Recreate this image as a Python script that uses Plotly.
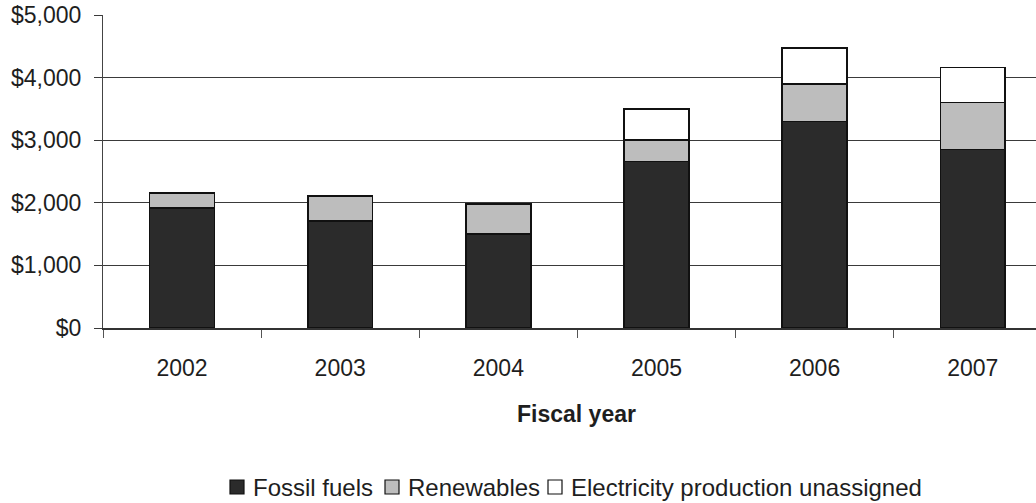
import plotly.graph_objects as go

years = ["2002", "2003", "2004", "2005", "2006", "2007"]
fossil = [1920, 1710, 1500, 2660, 3300, 2850]
renewables = [240, 400, 480, 340, 600, 750]
unassigned = [0, 0, 0, 500, 570, 560]
y_ticks = [0, 1000, 2000, 3000, 4000, 5000]
y_labels = ["$0", "$1,000", "$2,000", "$3,000", "$4,000", "$5,000"]
series_names = ["Fossil fuels", "Renewables", "Electricity production unassigned"]

FONT = "Liberation Sans, Arial, sans-serif"
TXT = "#1e1e1e"
COLORS = ["#2b2b2b", "#bdbdbd", "#ffffff"]
EDGE = "#111111"

W, H = 1036, 503
ML, MR, MT, MB = 103, 0, 15, 175
PW, PH = W - ML - MR, H - MT - MB


def px_x(px):
    return (px - ML) / PW


def px_y(py):
    return (H - MB - py) / PH


fig = go.Figure()
for name, vals, col in zip(series_names, [fossil, renewables, unassigned], COLORS):
    fig.add_bar(x=years, y=vals, name=name, showlegend=False,
                marker=dict(color=col, line=dict(color=EDGE, width=1.5)))

fig.update_layout(
    width=W, height=H,
    barmode="stack", bargap=0.59,
    plot_bgcolor="white", paper_bgcolor="white",
    margin=dict(l=ML, r=MR, t=MT, b=MB, autoexpand=False),
    font=dict(family=FONT, color=TXT, size=23),
    showlegend=False,
    xaxis=dict(type="category", range=[-0.5, 5.4], showgrid=False,
               showline=True, linecolor="#333333", linewidth=1.5,
               ticks="outside", tickson="boundaries", ticklen=8,
               tickcolor="#555555", tickwidth=1,
               ticklabelstandoff=19,
               tickfont=dict(size=23, family=FONT, color=TXT)),
    yaxis=dict(range=[0, 5000], tickvals=y_ticks, ticktext=y_labels,
               showgrid=True, gridcolor="#3a3a3a", gridwidth=1.3,
               showline=True, linecolor="#444444", linewidth=1.2,
               ticks="outside", ticklen=8, tickcolor="#3a3a3a",
               ticklabelstandoff=8, zeroline=False,
               tickfont=dict(size=23, family=FONT, color=TXT)),
)

fig.add_annotation(text="<b>Fiscal year</b>", xref="paper", yref="paper",
                   x=px_x(576), y=px_y(414), yanchor="middle", showarrow=False,
                   font=dict(size=23, family=FONT, color=TXT))

# Legend drawn as squares + text
square_left = [230, 385, 548]
text_left = [251, 406, 569]
ly = 487
for name, col, sx, tx in zip(series_names, COLORS, square_left, text_left):
    fig.add_shape(type="rect", xref="paper", yref="paper",
                  x0=px_x(sx), x1=px_x(sx + 14), y0=px_y(ly + 7), y1=px_y(ly - 7),
                  fillcolor=col, line=dict(color=EDGE, width=1.2))
    fig.add_annotation(text=name, xref="paper", yref="paper",
                       x=px_x(tx), y=px_y(ly), xanchor="left", yanchor="middle",
                       showarrow=False,
                       font=dict(size=24, family=FONT, color=TXT))

fig.write_html("out.html")
